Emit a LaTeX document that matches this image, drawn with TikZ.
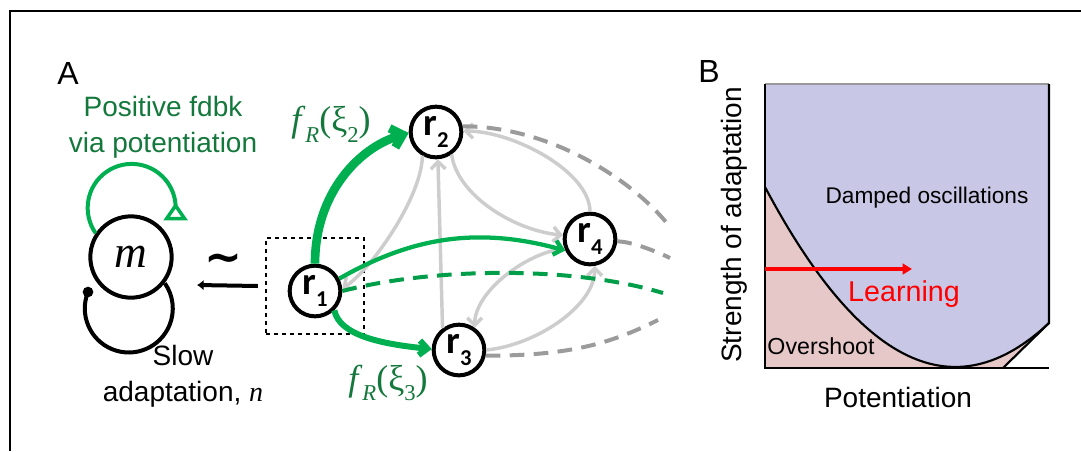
\documentclass[tikz,border=0pt]{standalone}
\usepackage{fontspec}
\setmainfont{Liberation Sans}
\newfontfamily\seriffont{Liberation Serif}
\newfontfamily\calfont{Carlito}
\newfontfamily\djfont{DejaVu Sans}
\usetikzlibrary{arrows.meta}
\definecolor{gA}{RGB}{0,176,80}
\definecolor{gT}{RGB}{20,120,60}
\definecolor{lg}{RGB}{205,205,205}
\definecolor{dg}{RGB}{155,155,155}
\definecolor{bl}{RGB}{200,200,230}
\definecolor{pk}{RGB}{230,200,200}
\newcommand\rlab[1]{r\raisebox{-0.3em}{\fontsize{17}{17}\selectfont #1}}
\newcommand\fsub[1]{\raisebox{-0.3em}{\fontsize{17}{17}\selectfont #1}}
\tikzset{
  rnode/.style={circle, draw, line width=3pt, minimum size=38pt, inner sep=0pt,
    font=\calfont\bfseries\fontsize{29}{29}\selectfont},
  mnode/.style={circle, draw, line width=3pt, minimum size=61pt, inner sep=0pt,
    font=\seriffont\itshape\fontsize{34}{34}\selectfont},
  garr/.style={gA, -{Straight Barb[length=6pt,width=11pt]}},
  grey/.style={lg, line width=2.6pt, -{Straight Barb[length=5.5pt,width=11pt]}},
  gdash/.style={dg, line width=3pt, dash pattern=on 11pt off 7pt},
  lbl/.style={font=\fontsize{21}{27}\selectfont, align=center},
  flab/.style={gT, font=\seriffont\fontsize{27}{27}\selectfont},
}
\begin{document}
\begin{tikzpicture}[x=0.75pt,y=-0.75pt]
\useasboundingbox (0,0) rectangle (1081,451);
% frame
\draw[line width=1pt] (10,451) -- (10,11) -- (1081,11);
% panel labels
\node[font=\fontsize{24}{24}\selectfont] (lA) at (68,73) {A};
\node[font=\fontsize{24}{24}\selectfont] (lB) at (709,71) {B};
% m unit
\node[mnode] (m) at (131,257) {m};
\coordinate (dot) at (88,292);
\fill (dot) circle[radius=4pt];
\draw[line width=3pt] (dot) arc[start angle=202, end angle=-35, radius=44];
\draw[gA, line width=3pt] (m.146) arc[start angle=145, end angle=357, radius=44] coordinate (gt);
\draw[gA, line width=2.6pt, line join=miter] (gt) -- ++(-9,13) -- ++(18,0) -- cycle;
\node[lbl, gT] (pf) at (163,127) {Positive fdbk\\via potentiation};
\node[lbl] (sa) at (183,376) {Slow\\adaptation, {\seriffont\itshape n}};
% similarity
\node[font=\djfont\bfseries\fontsize{34}{34}\selectfont] (tl) at (223,263) {\textasciitilde};
\node[draw, dash pattern=on 3pt off 3pt, line width=1.6pt, minimum width=74pt, minimum height=72pt] (box) at (315,286) {};
\coordinate (ae) at (197,285);
\draw[line width=3pt, -{Latex[length=5pt,width=8pt]}] ([xshift=-5pt]box.west) -- (ae);
% r nodes
\node[rnode] (r1) at (315,291) {\rlab{1}};
\node[rnode] (r2) at (436,132) {\rlab{2}};
\node[rnode] (r3) at (459,350) {\rlab{3}};
\node[rnode] (r4) at (590,239) {\rlab{4}};
% grey connections
\draw[grey] (r2.240) .. controls +(0,40) and +(30,-20) .. (r1.5);
\draw[grey] (r3.127) -- (r2.-86);
\draw[grey] (r2.-55) .. controls +(5,40) and +(-50,-5) .. (r4.172);
\draw[grey] (r4.90) .. controls +(0,-40) and +(50,0) .. (r2.2);
\draw[grey] (r4.200) .. controls +(-40,5) and +(0,-35) .. (r3.55);
\draw[grey] (r3.0) .. controls +(50,-5) and +(0,40) .. (r4.-80);
% grey dashed outgoing
\coordinate (d1) at (670,227);
\coordinate (d2) at (670,258);
\coordinate (d3) at (658,320);
\draw[gdash] (r2.12) .. controls +(90,0) and +(-35,-45) .. (d1);
\draw[gdash] (r4.-5) .. controls +(15,0) and +(-10,-5) .. (d2);
\draw[gdash] (r3.-12) .. controls +(80,0) and +(-50,25) .. (d3);
% green connections
\coordinate (gend) at (663,293);
\draw[gA!90!black, line width=3pt, dash pattern=on 11pt off 7pt] (r1.0) .. controls (430,268) and (570,265) .. (gend);
\draw[garr, line width=3.2pt] (r1.27) .. controls +(70,-40) and +(-90,-25) .. (r4.205);
\draw[garr, line width=4.5pt] (r1.-45) .. controls +(5,25) and +(-50,-5) .. (r3.178);
\draw[gA, line width=6.5pt, -{Straight Barb[length=8pt,width=15pt]}] (r1.90) .. controls +(0,-70) and +(-50,15) .. (r2.182);
\node[flab] (f2) at (331,124) {\textit{f}\fsub{\textit{R}}(ξ\fsub{2})};
\node[flab] (f3) at (388,383) {\textit{f}\fsub{\textit{R}}(ξ\fsub{3})};
% panel B
\fill[bl] (765,84) -- (1049,84) -- (1049,323) .. controls (954.33,411.93) and (859.67,365.47) .. (765,187) -- cycle;
\fill[pk] (765,187) .. controls (859.67,365.47) and (954.33,411.93) .. (1049,323) -- (1003,368) -- (765,368) -- cycle;
\draw[gray!80, line width=0.8pt] (765,84) -- (1049,84);
\draw[line width=1.6pt] (765,84) -- (765,368) -- (1049,368);
\draw[line width=1.6pt] (1049,84) -- (1049,323) -- (1003,368);
\draw[line width=1.6pt] (765,187) .. controls (859.67,365.47) and (954.33,411.93) .. (1049,323);
\draw[red, line width=3pt, -{Triangle[length=7pt,width=8pt]}] (765,269) -- (912,269);
\node[font=\fontsize{17}{17}\selectfont] (do) at (927,198) {Damped oscillations};
\node[red, font=\fontsize{21.5}{21.5}\selectfont] (lr) at (904,294) {Learning};
\node[font=\fontsize{17.4}{17.4}\selectfont] (ov) at (821,346) {Overshoot};
\node[rotate=90, font=\fontsize{21}{21}\selectfont] (ya) at (734,225) {Strength of adaptation};
\node[font=\fontsize{21}{21}\selectfont] (xa) at (898,397) {Potentiation};
\end{tikzpicture}
\end{document}
